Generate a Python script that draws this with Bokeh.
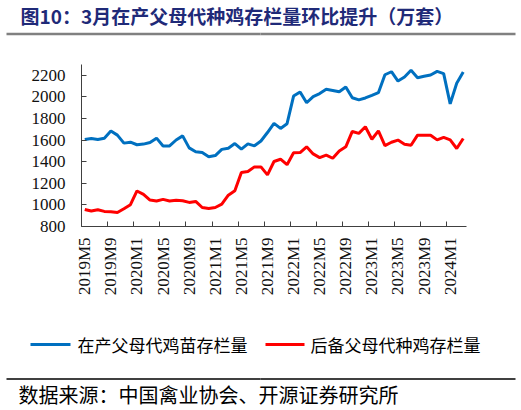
from math import pi

from bokeh.plotting import figure
from bokeh.models import ColumnDataSource, FixedTicker, Range1d
from bokeh.layouts import column
from bokeh.core.properties import value
from bokeh.embed import file_html
from bokeh.resources import INLINE

# monthly data, 2019M5 .. 2024M3 (万套)
months = [f"{2019 + (m + 4) // 12}M{(m + 4) % 12 + 1}" for m in range(59)]

laying = [1606, 1615, 1606, 1618, 1684, 1646, 1572, 1581, 1557, 1563,
          1578, 1618, 1546, 1546, 1601, 1639, 1528, 1492, 1485, 1446,
          1457, 1514, 1525, 1568, 1516, 1565, 1547, 1592, 1670, 1755,
          1708, 1752, 2008, 2046, 1946, 2003, 2031, 2070, 2060, 2047,
          2092, 1992, 1972, 1990, 2014, 2039, 2205, 2233, 2147, 2184,
          2247, 2178, 2191, 2203, 2236, 2216, 1935, 2127, 2230]

reserve = [958, 943, 955, 940, 937, 930, 965, 1002, 1129, 1098,
           1045, 1036, 1051, 1036, 1042, 1038, 1023, 1032, 976, 967,
           976, 1007, 1090, 1131, 1300, 1309, 1352, 1352, 1278, 1402,
           1423, 1372, 1483, 1485, 1538, 1472, 1438, 1461, 1432, 1500,
           1538, 1680, 1662, 1723, 1608, 1685, 1549, 1580, 1600, 1562,
           1552, 1646, 1646, 1645, 1602, 1625, 1602, 1522, 1615]

series_names = ["在产父母代鸡苗存栏量", "后备父母代种鸡存栏量"]
series_colors = ["#0070C0", "#FF0000"]
y_ticks = [800, 1000, 1200, 1400, 1600, 1800, 2000, 2200]

title_text = "图10：3月在产父母代种鸡存栏量环比提升（万套）"
source_text = "数据来源：中国禽业协会、开源证券研究所"

W = 521
CJK = "Noto Sans CJK SC"
SERIF = "Liberation Serif"

src = ColumnDataSource(dict(x=list(range(len(months))), laying=laying, reserve=reserve))


def strip(h):
    # blank figure whose frame is the whole canvas, y measured from the top
    f = figure(width=W, height=h, x_range=Range1d(0, W), y_range=Range1d(h, 0),
               x_axis_location=None, y_axis_location=None, min_border=0,
               output_backend="svg", toolbar_location=None)
    f.grid.visible = False
    f.outline_line_color = None
    f.frame_align = False
    return f


# --- title strip (with its grey rule underneath)
t = strip(40)
t.text(x=[20], y=[15], text=[title_text], text_font=value(CJK), text_font_size="19px",
       text_font_style="bold", text_color="#1F2A78", text_baseline="middle")
t.segment(x0=[6, 260], y0=[33.5, 33.5], x1=[260, 515], y1=[33.5, 33.5],
          line_color=["#808080", "#808080"], line_width=2.5)

# --- main chart
p = figure(width=W, height=280, x_range=Range1d(-0.5, len(months) - 0.5),
           y_range=Range1d(800, 2300), min_border_left=81, min_border_right=55,
           min_border_top=24, min_border_bottom=94,
           output_backend="svg", toolbar_location=None)
p.frame_align = False
p.grid.visible = False
p.outline_line_color = None

p.line("x", "laying", source=src, color=series_colors[0], line_width=3)
p.line("x", "reserve", source=src, color=series_colors[1], line_width=3)

label_idx = list(range(0, len(months), 4))
p.xaxis.ticker = FixedTicker(ticks=label_idx, minor_ticks=[i - 0.5 for i in label_idx])
p.xaxis.major_label_overrides = {i: months[i] for i in label_idx}
p.xaxis.major_label_orientation = pi / 2
p.xaxis.major_tick_in = 0
p.xaxis.major_tick_out = 0
p.xaxis.minor_tick_in = 5
p.xaxis.minor_tick_out = 0
p.xaxis.major_label_standoff = 11

p.yaxis.ticker = FixedTicker(ticks=y_ticks)
p.yaxis.major_tick_in = 5
p.yaxis.major_tick_out = 0
p.yaxis.major_label_standoff = 16

for ax in (p.xaxis, p.yaxis):
    ax.axis_line_color = "#404040"
    ax.major_tick_line_color = "#404040"
    ax.minor_tick_line_color = "#404040"
    ax.major_label_text_font = SERIF
    ax.major_label_text_font_size = "17px"
    ax.major_label_text_color = "#111111"
p.yaxis.minor_tick_line_color = None

# --- legend + source strip (black rule between them)
b = strip(90)
b.segment(x0=[30, 265, 6, 260], y0=[24, 24, 58.5, 58.5],
          x1=[70, 304, 260, 515], y1=[24, 24, 58.5, 58.5],
          line_color=series_colors + ["#000000", "#000000"],
          line_width=[3, 3, 1.5, 1.5])
b.text(x=[77, 310], y=[24, 24], text=series_names, text_font=value(CJK),
       text_font_size="17px", text_color="#000000", text_baseline="middle")
b.text(x=[18], y=[74], text=[source_text], text_font=value(CJK),
       text_font_size="20px", text_color="#000000", text_baseline="middle")

layout = column(t, p, b)
open("out.html", "w").write(file_html(layout, INLINE))
